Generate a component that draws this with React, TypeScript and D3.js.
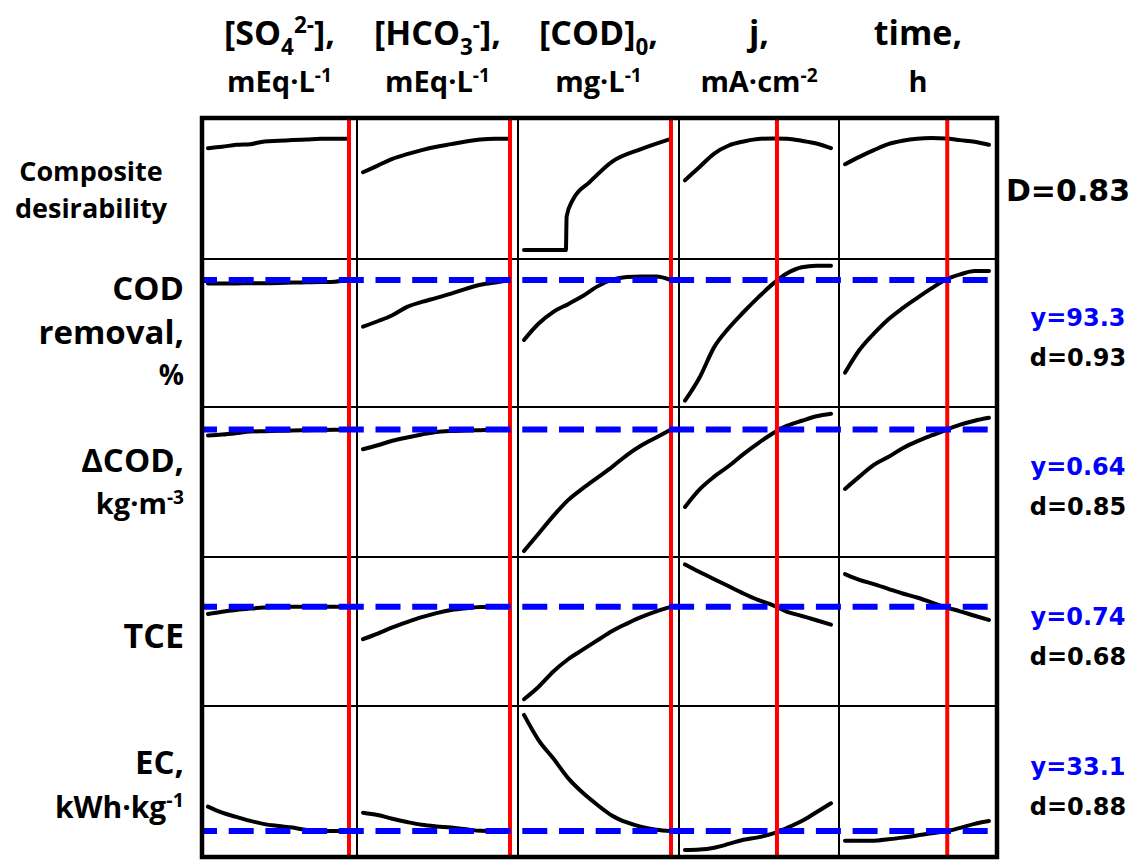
import React, { useEffect, useRef } from "react";
import * as d3 from "d3";

// factor settings as fraction of each factor's range (0 = low, 1 = high)
const levels = [0, 0.1, 0.2, 0.3, 0.4, 0.5, 0.6, 0.7, 0.8, 0.9, 1];
const optimum = [1, 1, 1, 0.63, 0.71];

// composite desirability vs each factor
const compositeD = [
  [0.76, 0.77, 0.785, 0.79, 0.81, 0.815, 0.82, 0.825, 0.83, 0.83, 0.83],
  [0.58, 0.63, 0.68, 0.715, 0.745, 0.77, 0.79, 0.81, 0.825, 0.83, 0.83],
  null,
  [0.52, 0.62, 0.72, 0.78, 0.81, 0.828, 0.833, 0.83, 0.815, 0.795, 0.76],
  [0.64, 0.695, 0.745, 0.79, 0.815, 0.83, 0.835, 0.833, 0.82, 0.808, 0.785],
];
// [COD]0 desirability has a cut-off, so its own levels
const codLevels = [0, 0.15, 0.285, 0.29, 0.33, 0.45, 0.6, 0.8, 1];
const codD = [0, 0, 0, 0.25, 0.37, 0.51, 0.66, 0.755, 0.83];

const codRemoval = [
  [91.8, 91.8, 91.8, 91.9, 91.9, 92.0, 92.2, 92.3, 92.4, 92.6, 93.3],
  [72.6, 75, 77.7, 81.4, 83.6, 85.4, 87.3, 89.4, 91.2, 92.2, 93.3],
  [66.7, 74, 79.2, 82.6, 86.2, 90.5, 93.5, 94.7, 94.9, 94.9, 93.3],
  [39.7, 50, 63.5, 72, 79, 85.5, 91.5, 96.3, 99, 99.7, 99.7],
  [52.1, 62.2, 69.5, 75.8, 80.8, 85.3, 89.6, 93.5, 95.8, 97.3, 97.3],
];
const deltaCOD = [
  [0.61, 0.615, 0.622, 0.63, 0.632, 0.634, 0.636, 0.637, 0.638, 0.639, 0.64],
  [0.54, 0.56, 0.583, 0.6, 0.615, 0.628, 0.633, 0.635, 0.637, 0.639, 0.64],
  [0.02, 0.11, 0.2, 0.28, 0.34, 0.395, 0.45, 0.51, 0.56, 0.6, 0.64],
  [0.245, 0.335, 0.4, 0.454, 0.515, 0.57, 0.62, 0.66, 0.685, 0.708, 0.721],
  [0.337, 0.4, 0.46, 0.5, 0.545, 0.58, 0.61, 0.638, 0.665, 0.685, 0.7],
];
const tce = [
  [0.708, 0.718, 0.726, 0.732, 0.737, 0.739, 0.74, 0.74, 0.74, 0.74, 0.74],
  [0.595, 0.62, 0.648, 0.672, 0.694, 0.712, 0.726, 0.734, 0.739, 0.74, 0.74],
  [0.326, 0.382, 0.45, 0.505, 0.548, 0.59, 0.632, 0.665, 0.695, 0.72, 0.74],
  [0.93, 0.896, 0.864, 0.832, 0.8, 0.771, 0.748, 0.718, 0.699, 0.68, 0.66],
  [0.887, 0.861, 0.842, 0.821, 0.8, 0.782, 0.76, 0.738, 0.72, 0.7, 0.681],
];
const ec = [
  [43.6, 41, 39.2, 37.5, 36.1, 35.3, 34.6, 33.6, 33.2, 33.1, 33.1],
  [41.0, 40.0, 38.4, 37.0, 35.8, 35.1, 34.6, 33.9, 33.2, 33.1, 33.1],
  [82.9, 72, 64.2, 55.8, 49.5, 44.3, 39.7, 36.8, 34.9, 33.7, 33.1],
  [25.0, 25.2, 26.0, 27.6, 29.4, 30.4, 32.0, 34.5, 37.4, 41.2, 45.0],
  [29.0, 29.0, 29.0, 29.6, 30.3, 31.2, 32.2, 33.0, 34.5, 36.2, 37.4],
];

const profiles = [compositeD, codRemoval, deltaCOD, tce, ec];
const yDomains = [[0, 1], [40, 100], [0, 0.74], [0.3, 0.95], [25, 85]];
const targets = [null, 93.3, 0.64, 0.74, 33.1];
const predicted = ["D=0.83", "y=93.3", "y=0.64", "y=0.74", "y=33.1"];
const desir = [null, "d=0.93", "d=0.85", "d=0.68", "d=0.88"];

type Part = { t: string; sub?: boolean; sup?: boolean };
const headTop: Part[][] = [
  [{ t: "[SO" }, { t: "4", sub: true }, { t: "2-", sup: true }, { t: "]," }],
  [{ t: "[HCO" }, { t: "3", sub: true }, { t: "-", sup: true }, { t: "]," }],
  [{ t: "[COD]" }, { t: "0", sub: true }, { t: "," }],
  [{ t: "j," }],
  [{ t: "time," }],
];
const headUnits: Part[][] = [
  [{ t: "mEq·L" }, { t: "-1", sup: true }],
  [{ t: "mEq·L" }, { t: "-1", sup: true }],
  [{ t: "mg·L" }, { t: "-1", sup: true }],
  [{ t: "mA·cm" }, { t: "-2", sup: true }],
  [{ t: "h" }],
];

const colEdges = [202, 357, 518, 679, 839, 997];
const rowEdges = [118, 259, 407, 557, 706, 857];
// pixel padding of the y range inside each row: [bottom, top]
const rowPads = [[9, -2], [7, 6], [2, 3], [1, 3], [7, 4]];
const calibri = "'Open Sans', Lato, sans-serif";
const verdana = "'DejaVu Sans', Verdana, sans-serif";

function addText(g: any, parts: Part[], x: number, y: number, size: number, anchor: string, family = calibri, fill = "#000") {
  const t = g
    .append("text")
    .attr("x", x)
    .attr("y", y)
    .attr("text-anchor", anchor)
    .attr("font-family", family)
    .attr("font-weight", "bold")
    .attr("font-size", size)
    .attr("fill", fill);
  let shift = 0;
  parts.forEach((p) => {
    const target = p.sub ? size * 0.28 : p.sup ? -size * 0.36 : 0;
    t.append("tspan")
      .attr("dy", target - shift)
      .attr("font-size", p.sub || p.sup ? size * 0.66 : size)
      .text(p.t);
    shift = target;
  });
}

const OptimizationPlot = () => {
  const ref = useRef<SVGSVGElement>(null);

  useEffect(() => {
    document.body.style.margin = "0";
    const svg = d3.select(ref.current);
    svg.selectAll("*").remove();

    const xScales = colEdges.slice(0, 5).map((l, c) =>
      d3.scaleLinear().domain([0, 1]).range([l + 6, colEdges[c + 1] - 8])
    );
    const yScales = yDomains.map((dom, r) =>
      d3.scaleLinear().domain(dom).range([rowEdges[r + 1] - rowPads[r][0], rowEdges[r] + rowPads[r][1]])
    );

    // grid
    const grid = svg.append("g");
    colEdges.slice(1, 5).forEach((x) =>
      grid.append("line").attr("x1", x).attr("x2", x).attr("y1", rowEdges[0]).attr("y2", rowEdges[5]).attr("stroke", "#000").attr("stroke-width", 2)
    );
    rowEdges.slice(1, 5).forEach((y) =>
      grid.append("line").attr("x1", colEdges[0]).attr("x2", colEdges[5]).attr("y1", y).attr("y2", y).attr("stroke", "#000").attr("stroke-width", 2)
    );

    // profile curves
    const line = d3.line<[number, number]>().curve(d3.curveMonotoneX);
    profiles.forEach((rows, r) => {
      rows.forEach((vals, c) => {
        const xs = vals ? levels : codLevels;
        const ys = vals ? vals : codD;
        const pts = xs.map((x, i) => [xScales[c](x), yScales[r](ys[i])] as [number, number]);
        svg
          .append("path")
          .attr("d", line(pts))
          .attr("fill", "none")
          .attr("stroke", "#000")
          .attr("stroke-width", 4)
          .attr("stroke-linecap", "round")
          .attr("stroke-linejoin", "round");
      });
    });

    // optimum settings
    optimum.forEach((o, c) =>
      svg
        .append("line")
        .attr("x1", xScales[c](o))
        .attr("x2", xScales[c](o))
        .attr("y1", rowEdges[0])
        .attr("y2", rowEdges[5])
        .attr("stroke", "#ff0000")
        .attr("stroke-width", 4)
    );

    // predicted responses
    targets.forEach((t, r) => {
      if (t === null) return;
      svg
        .append("line")
        .attr("x1", colEdges[0])
        .attr("x2", colEdges[5])
        .attr("y1", yScales[r](t))
        .attr("y2", yScales[r](t))
        .attr("stroke", "#0000ff")
        .attr("stroke-width", 6)
        .attr("stroke-dasharray", "25 11.7")
        .attr("stroke-dashoffset", 10);
    });

    // frame
    svg
      .append("rect")
      .attr("x", colEdges[0])
      .attr("y", rowEdges[0])
      .attr("width", colEdges[5] - colEdges[0])
      .attr("height", rowEdges[5] - rowEdges[0])
      .attr("fill", "none")
      .attr("stroke", "#000")
      .attr("stroke-width", 4.5);

    // column headers
    const txt = svg.append("g");
    headTop.forEach((parts, c) => {
      const cx = (colEdges[c] + colEdges[c + 1]) / 2;
      addText(txt, parts, cx, 45, 34, "middle");
      addText(txt, headUnits[c], cx, 92, 29, "middle");
    });

    // row labels
    addText(txt, [{ t: "Composite" }], 91, 181, 27, "middle");
    addText(txt, [{ t: "desirability" }], 91, 218, 27, "middle");
    addText(txt, [{ t: "COD" }], 184, 300, 33, "end");
    addText(txt, [{ t: "removal," }], 184, 344, 33, "end");
    addText(txt, [{ t: "%" }], 184, 385, 28, "end");
    addText(txt, [{ t: "ΔCOD," }], 184, 472, 33, "end");
    addText(txt, [{ t: "kg·m" }, { t: "-3", sup: true }], 184, 514, 29, "end");
    addText(txt, [{ t: "TCE" }], 184, 648, 34, "end");
    addText(txt, [{ t: "EC," }], 184, 774, 33, "end");
    addText(txt, [{ t: "kWh·kg" }, { t: "-1", sup: true }], 184, 818, 30, "end");

    // predicted values and desirabilities
    addText(txt, [{ t: predicted[0] }], 1068, 201, 30, "middle", verdana);
    [1, 2, 3, 4].forEach((r) => {
      const cy = (rowEdges[r] + rowEdges[r + 1]) / 2;
      addText(txt, [{ t: predicted[r] }], 1078, cy - 7, 24, "middle", verdana, "#0000ff");
      addText(txt, [{ t: desir[r] as string }], 1078, cy + 33, 24, "middle", verdana);
    });
  }, []);

  return <svg ref={ref} width={1142} height={860} style={{ display: "block", background: "#fff" }} />;
};

export default function App() {
  return <OptimizationPlot />;
}
